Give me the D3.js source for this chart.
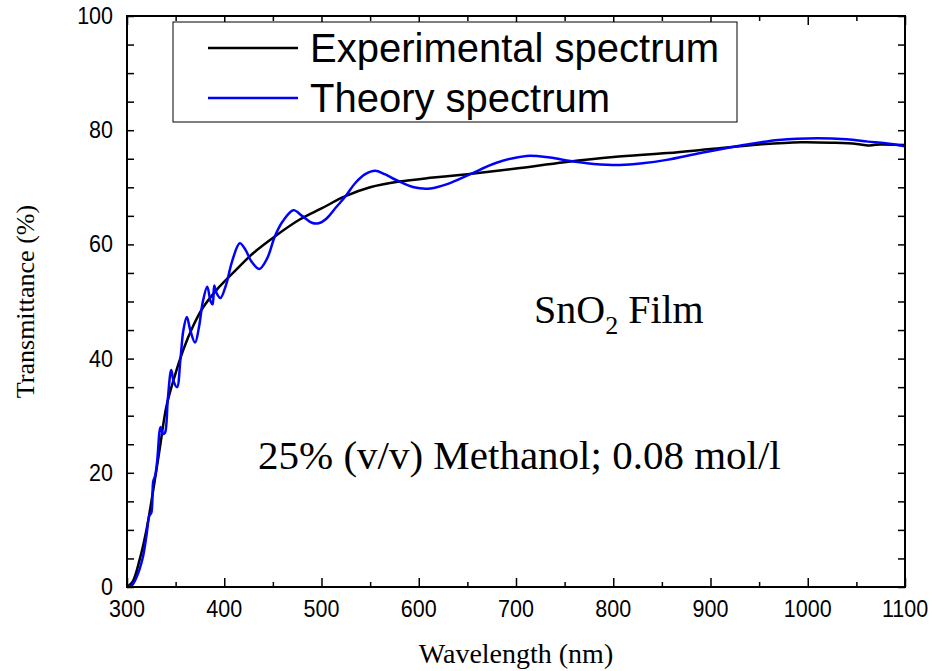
<!DOCTYPE html>
<html>
<head>
<meta charset="utf-8">
<script src="https://cdnjs.cloudflare.com/ajax/libs/d3/7.8.5/d3.min.js"></script>
<style>
  body { margin: 0; background: #fff; }
</style>
</head>
<body>
<div id="chart"></div>
<script>
const expWavelength = [300, 306, 313, 320, 327, 334, 340.5, 349, 358, 368, 378, 392, 409, 430, 452, 478, 500, 524, 550, 580, 615, 650, 700, 750, 800, 856, 900, 950, 993, 1027, 1050, 1062, 1068, 1075, 1100];
const expTransmittance = [0, 1, 4.8, 10, 17, 24.6, 31.6, 36.9, 41.6, 45.7, 48.9, 52, 55, 58.5, 61.4, 64.4, 66.3, 68.4, 70, 71, 71.7, 72.3, 73.3, 74.4, 75.3, 76, 76.7, 77.5, 77.9, 77.8, 77.6, 77.3, 77.4, 77.5, 77.4];

const theoryWavelength = [300, 305, 310, 316, 320, 323, 325, 327, 329, 331, 334.5, 337, 339, 342, 345.5, 348, 351.5, 355, 358, 361.5, 365, 370, 374, 378, 382.5, 386, 388, 389.7, 392, 396, 402, 408, 416, 422, 428, 436, 444, 452, 460, 471, 480, 490, 497, 505, 515, 524.5, 535, 545, 555, 565, 577.7, 595, 612, 630, 653, 680, 711, 735, 756, 780, 807, 830, 855, 890, 934, 970, 1010, 1040, 1062, 1080, 1100];
const theoryTransmittance = [0, 0.3, 1.8, 5, 9, 12.5, 13, 18.5, 19.5, 22, 28, 26.8, 27, 33, 38, 36, 35, 40, 45, 47.3, 45, 42.8, 45.5, 50, 52.6, 50, 49.5, 52.8, 51.5, 50.6, 53, 57, 60.2, 59, 57, 55.7, 57.5, 61.4, 64, 66, 65, 63.8, 63.7, 64.5, 66.5, 68.4, 70.8, 72.3, 72.9, 72.3, 71.2, 70, 69.8, 70.6, 72.3, 74.3, 75.5, 75.2, 74.6, 74.1, 73.9, 74.2, 74.8, 76, 77.4, 78.3, 78.6, 78.4, 78, 77.7, 77.2];

const xTicks = [300, 400, 500, 600, 700, 800, 900, 1000, 1100];
const yTicks = [0, 20, 40, 60, 80, 100];
const legendLabels = ['Experimental spectrum', 'Theory spectrum'];
const seriesColors = ['#000000', '#0000ff'];

const width = 930,
height = 671,
margin = {
  top: 16,
  right: 25,
  bottom: 84,
  left: 127 };


const plotW = width - margin.left - margin.right,
plotH = height - margin.top - margin.bottom;

const svg = d3.select('#chart').
append('svg').
attr('width', width).
attr('height', height);

const g = svg.append('g').
attr('transform', `translate(${margin.left},${margin.top})`);

const x = d3.scaleLinear().domain([300, 1100]).range([0, plotW]);
const y = d3.scaleLinear().domain([0, 100]).range([plotH, 0]);

const tickFont = 'Arial, "Liberation Sans", sans-serif';
const serif = '"Times New Roman", "Liberation Serif", serif';

// inward ticks on all four sides
const minorX = d3.range(300, 1101, 50).filter(v => v % 100 !== 0);
const minorY = d3.range(0, 101, 5).filter(v => v % 20 !== 0);

function drawTicks(sel, axisFn, scale, major, minor, majLen, minLen) {
  sel.call(axisFn(scale).tickValues(major).tickSize(-majLen).tickFormat(''));
  sel.call(s => s.select('.domain').remove());
  const m = sel.append('g');
  m.call(axisFn(scale).tickValues(minor).tickSize(-minLen).tickFormat(''));
  m.select('.domain').remove();
  sel.selectAll('line').attr('stroke', '#000').attr('stroke-width', 1.5);
}

drawTicks(g.append('g').attr('transform', `translate(0,${plotH})`), d3.axisBottom, x, xTicks, minorX, 9, 5);
drawTicks(g.append('g'), d3.axisTop, x, xTicks, minorX, 9, 5);
drawTicks(g.append('g'), d3.axisLeft, y, yTicks, minorY, 7, 7);
drawTicks(g.append('g').attr('transform', `translate(${plotW},0)`), d3.axisRight, y, yTicks, minorY, 7, 7);

// tick labels (a little taller than wide, like the original)
g.append('g').selectAll('text').
data(xTicks).
enter().
append('text').
attr('transform', d => `translate(${x(d)},${plotH + 30}) scale(1,1.1)`).
attr('text-anchor', 'middle').
style('font-family', tickFont).
style('font-size', '21.5px').
text(d => d);

g.append('g').selectAll('text').
data(yTicks).
enter().
append('text').
attr('transform', d => `translate(-14,${y(d) + 8}) scale(1,1.1)`).
attr('text-anchor', 'end').
style('font-family', tickFont).
style('font-size', '21.5px').
text(d => d);

// series
const expData = expWavelength.map((w, i) => [w, expTransmittance[i]]);
const theoryData = theoryWavelength.map((w, i) => [w, theoryTransmittance[i]]);

const line = d3.line().
x(d => x(d[0])).
y(d => y(d[1])).
curve(d3.curveCatmullRom.alpha(0.5));

g.append('path').
datum(expData).
attr('d', line).
attr('fill', 'none').
attr('stroke', seriesColors[0]).
attr('stroke-width', 2.5);

g.append('path').
datum(theoryData).
attr('d', line).
attr('fill', 'none').
attr('stroke', seriesColors[1]).
attr('stroke-width', 2.5);

// frame
g.append('rect').
attr('width', plotW).
attr('height', plotH).
attr('fill', 'none').
attr('stroke', '#000').
attr('stroke-width', 2);

// legend
const legend = svg.append('g').attr('id', 'legend');
legend.append('rect').
attr('x', 173).
attr('y', 22).
attr('width', 564).
attr('height', 100).
attr('fill', '#fff').
attr('stroke', '#000').
attr('stroke-width', 1);

legendLabels.forEach((lab, i) => {
  legend.append('line').
  attr('x1', 208).
  attr('x2', 298).
  attr('y1', 48 + i * 50).
  attr('y2', 48 + i * 50).
  attr('stroke', seriesColors[i]).
  attr('stroke-width', 2.5);
  legend.append('text').
  attr('x', 310).
  attr('y', 62 + i * 50).
  style('font-family', tickFont).
  style('font-size', '40px').
  text(lab);
});

// annotations
const film = svg.append('text').
attr('x', 534).
attr('y', 323).
style('font-family', serif).
style('font-size', '40px');
film.append('tspan').text('SnO');
film.append('tspan').attr('dy', 11).style('font-size', '26px').text('2');
film.append('tspan').attr('dy', -11).text(' Film');

svg.append('text').
attr('x', 258).
attr('y', 469).
style('font-family', serif).
style('font-size', '41px').
text('25% (v/v) Methanol; 0.08 mol/l');

// axis titles
svg.append('text').
attr('x', margin.left + plotW / 2).
attr('y', 663).
attr('text-anchor', 'middle').
style('font-family', serif).
style('font-size', '28px').
text('Wavelength (nm)');

svg.append('text').
attr('transform', `translate(34,${margin.top + plotH / 2}) rotate(-90)`).
attr('text-anchor', 'middle').
style('font-family', serif).
style('font-size', '26px').
text('Transmittance (%)');
</script>
</body>
</html>
